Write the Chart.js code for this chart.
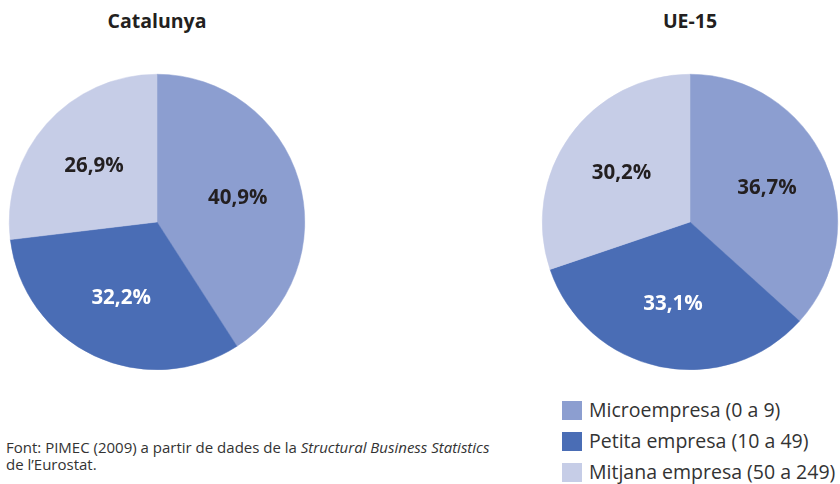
<!DOCTYPE html>
<html>
<head>
<meta charset="utf-8">
<script src="https://cdn.jsdelivr.net/npm/chart.js@4/dist/chart.umd.min.js"></script>
<style>
  html, body { margin: 0; padding: 0; background: #fff; }
  #wrap { position: relative; width: 840px; height: 484px; overflow: hidden; font-family: "Open Sans", "Noto Sans", sans-serif; color: #231F20; }
  .title { position: absolute; top: 7px; width: 300px; text-align: center; font-weight: bold; font-size: 19.5px; }
  .pie { position: absolute; top: 72px; width: 300px; height: 300px; }
  #legend { position: absolute; left: 562px; top: 396px; font-size: 19.5px; color: #333; }
  #legend div { height: 31px; line-height: 28px; white-space: nowrap; }
  #legend span.sw { display: inline-block; width: 20px; height: 19px; vertical-align: -3px; margin-right: 7px; }
  #source { position: absolute; left: 6px; top: 439px; font-size: 15px; line-height: 17px; color: #333; }
</style>
</head>
<body>
<div id="wrap">
  <div class="title" style="left:7px;">Catalunya</div>
  <div class="title" style="left:540px;">UE-15</div>
  <div class="pie" style="left:7px;"><canvas id="c1" width="300" height="300"></canvas></div>
  <div class="pie" style="left:540px;"><canvas id="c2" width="300" height="300"></canvas></div>
  <div id="legend"></div>
  <div id="source">Font: PIMEC (2009) a partir de dades de la <i>Structural Business Statistics</i><br>de l’Eurostat.</div>
</div>
<script>
const categories = ["Microempresa (0 a 9)", "Petita empresa (10 a 49)", "Mitjana empresa (50 a 249)"];
const catalunyaValues = [40.9, 32.2, 26.9];
const ue15Values = [36.7, 33.1, 30.2];
const colors = ["#8C9ED0", "#4A6DB5", "#C6CDE7"];
const labelColors = ["#231F20", "#FFFFFF", "#231F20"];

const labelPlugin = {
  id: 'sliceLabels',
  afterDatasetsDraw(chart) {
    const ctx = chart.ctx;
    const meta = chart.getDatasetMeta(0);
    const data = chart.data.datasets[0].data;
    ctx.save();
    ctx.font = 'bold 20.5px "Open Sans", "Noto Sans", sans-serif';
    ctx.textAlign = 'center';
    ctx.textBaseline = 'middle';
    meta.data.forEach((arc, i) => {
      const p = arc.getProps(['x', 'y', 'startAngle', 'endAngle', 'outerRadius'], true);
      const mid = (p.startAngle + p.endAngle) / 2;
      const r = p.outerRadius * 0.57;
      const x = p.x + Math.cos(mid) * r;
      const y = p.y + Math.sin(mid) * r;
      ctx.fillStyle = labelColors[i];
      ctx.fillText(data[i].toFixed(1).replace('.', ',') + '%', x, y);
    });
    ctx.restore();
  }
};

function makePie(id, values) {
  return new Chart(document.getElementById(id), {
    type: 'pie',
    data: {
      labels: categories,
      datasets: [{
        data: values,
        backgroundColor: colors,
        borderColor: colors,
        borderWidth: 0.5
      }]
    },
    options: {
      responsive: false,
      animation: false,
      layout: { padding: 2 },
      plugins: { legend: { display: false }, tooltip: { enabled: false } }
    },
    plugins: [labelPlugin]
  });
}
makePie('c1', catalunyaValues);
makePie('c2', ue15Values);

const legend = document.getElementById('legend');
categories.forEach((c, i) => {
  const d = document.createElement('div');
  d.innerHTML = '<span class="sw" style="background:' + colors[i] + '"></span>' + c;
  legend.appendChild(d);
});
</script>
</body>
</html>
